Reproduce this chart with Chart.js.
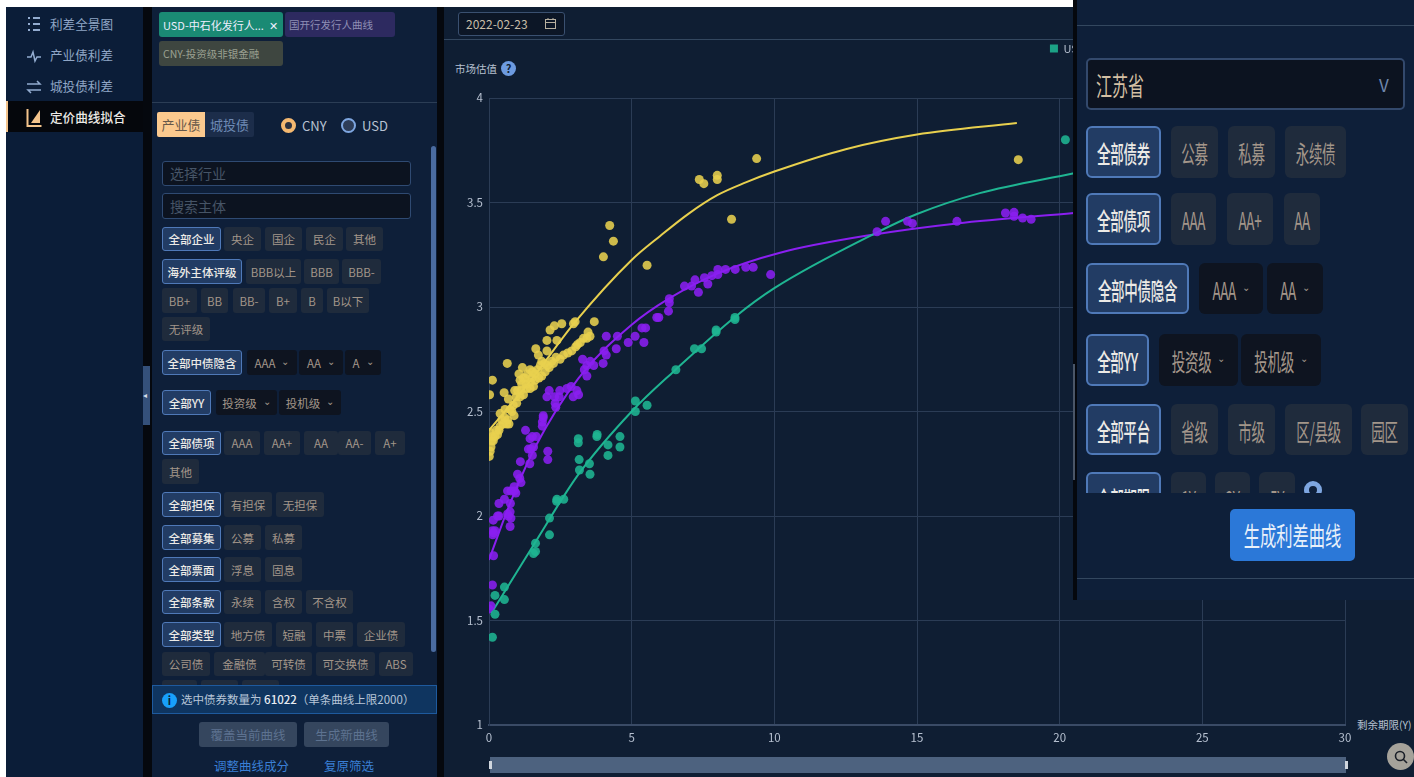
<!DOCTYPE html>
<html>
<head>
<meta charset="utf-8">
<script src="https://cdn.jsdelivr.net/npm/chart.js@4"></script>
<style>
  html, body { margin: 0; padding: 0; width: 1414px; height: 777px; overflow: hidden; background: #fff; }
  body { position: relative; font-family: "Noto Sans CJK SC", "Noto Sans", sans-serif; font-size: 12px; color: #a89a85; }
  .box { position: absolute; box-sizing: border-box; white-space: nowrap; }
  .btn { display: flex; align-items: center; justify-content: center; border-radius: 3px; background: #1f2b3c; color: #a3968a; }
  .btn.on { background: #223c64; border: 1px solid #4f79b8; color: #eceae6; font-weight: 500; }
  .btn.drop { background: #0e1420; }
  .btn.drop::after { content: "⌄"; font-size: 10px; margin-left: 6px; margin-top: -5px; color: #a3968a; }
  .big { font-size: 13.5px; border-width: 2px; border-radius: 6px; letter-spacing: -0.3px; }
  .big.on { border-width: 2px; }
  .big span { display: inline-block; transform: scaleY(1.8); }
  .nav { left: 50px; font-size: 12.6px; color: #8fa6c6; line-height: 20px; }
  canvas { position: absolute; left: 444px; top: 1px; }
</style>
</head>
<body>
<div class="box" style="left:6px;top:7px;width:137px;height:770px;background:#0b1d38"></div>
<div class="box" style="left:143px;top:7px;width:9px;height:770px;background:#05080e"></div>
<div class="box" style="left:152px;top:7px;width:285px;height:770px;background:#0e1f39"></div>
<div class="box" style="left:437px;top:7px;width:7px;height:770px;background:#05080e"></div>
<div class="box" style="left:444px;top:7px;width:970px;height:770px;background:#0f1e33"></div>
<div class="box" style="left:444px;top:39px;width:630px;height:1px;background:#33475f"></div>

<!-- left menu -->
<div class="box" style="left:6px;top:101px;width:137px;height:31px;background:#05070c;border-left:2px solid #f4c48c"></div>
<div class="box nav" style="top:14px">利差全景图</div>
<div class="box nav" style="top:45px">产业债利差</div>
<div class="box nav" style="top:76px">城投债利差</div>
<div class="box nav" style="top:107px;color:#eceae6;font-weight:500">定价曲线拟合</div>
<svg class="box" style="left:26px;top:16px" width="16" height="112" fill="none" stroke="#93acd0" stroke-width="2">
  <path d="M2 2h2M7 2h7M2 8h2M7 8h7M2 14h2M7 14h7"/>
  <path stroke-width="1.5" d="M1 41h4l2-5 2 9 2-4h4"/>
  <path stroke-width="1.5" d="M1 68h13l-3-3M15 74H2l3 3"/>
  <path stroke="#f4c48c" d="M1.5 93v17h14"/>
  <path stroke="none" fill="#f4c48c" d="M5 107l9-13v13z"/>
</svg>
<div class="box" style="left:143px;top:366px;width:7px;height:59px;background:#34507a;color:#d5dde8;font-size:8px;line-height:58px">◂</div>

<!-- filter panel head -->
<div class="box btn" style="left:159px;top:12px;width:124px;height:25px;background:#1a8a74;color:#eef;justify-content:flex-start;padding-left:4px;font-size:11px">USD-中石化发行人...&nbsp;&nbsp;✕</div>
<div class="box btn" style="left:285px;top:12px;width:110px;height:25px;background:#2d2a60;color:#8f8fb5;justify-content:flex-start;padding-left:4px;font-size:10.5px">国开行发行人曲线</div>
<div class="box btn" style="left:159px;top:41px;width:124px;height:25px;background:#3e4640;color:#9aa090;justify-content:flex-start;padding-left:4px;font-size:10.5px">CNY-投资级非银金融</div>
<div class="box" style="left:152px;top:102px;width:285px;height:1px;background:#2b3d55"></div>
<div class="box btn" style="left:157px;top:112px;width:48px;height:25px;background:#fbc98e;color:#66584a;font-size:13px;border-radius:2px 0 0 2px">产业债</div>
<div class="box btn" style="left:205px;top:112px;width:49px;height:25px;background:#1c2d4a;color:#6e8ab5;font-size:13px;border-radius:0 2px 2px 0">城投债</div>
<div class="box" style="left:281px;top:118px;width:15px;height:15px;border-radius:50%;border:4px solid #f4b870;background:#2b3140"></div>
<div class="box" style="left:302px;top:116px;font-size:13px;color:#b8c2d2">CNY</div>
<div class="box" style="left:341px;top:118px;width:15px;height:15px;border-radius:50%;border:2px solid #7ea6e0;background:#2e3d58"></div>
<div class="box" style="left:362px;top:116px;font-size:13px;color:#b8c2d2">USD</div>
<div class="box" style="left:431px;top:146px;width:5px;height:506px;border-radius:3px;background:#4a6ba0"></div>
<div class="box" style="left:162px;top:161px;width:249px;height:25px;background:#0c1320;border:1px solid #2f4a72;border-radius:3px;color:#465466;font-size:14px;padding-left:7px;line-height:23px">选择行业</div>
<div class="box" style="left:162px;top:193px;width:249px;height:26px;background:#0c1320;border:1px solid #2f4a72;border-radius:3px;color:#465466;font-size:14px;padding-left:7px;line-height:24px">搜索主体</div>

<!-- main toolbar -->
<div class="box" style="left:458px;top:12px;width:107px;height:24px;background:#0c1626;border:1px solid #3a5070;border-radius:3px;color:#c8bda8;padding-left:7px;line-height:22px">2022-02-23</div>
<svg class="box" style="left:544px;top:17px" width="13" height="13" fill="none" stroke="#b8b0a0"><rect x="1.5" y="2.5" width="10" height="9"/><path d="M1.5 5.5h10M4 1v2M9 1v2"/></svg>
<div class="box" style="left:455px;top:61px;font-size:10.5px;color:#b6c0d0">市场估值</div>
<div class="box" style="left:501px;top:61px;width:15px;height:15px;border-radius:50%;background:#6d9be0;color:#0f1e33;font-size:11px;font-weight:700;text-align:center;line-height:15px">?</div>
<div class="box" style="left:1357px;top:717px;font-size:10.5px;color:#b6c0d0">剩余期限(Y)</div>

<canvas id="curveChart" width="1174" height="759"></canvas>

<!-- range slider -->
<div class="box" style="left:490px;top:757px;width:856px;height:16px;background:#4d627f"></div>
<div class="box" style="left:489px;top:761px;width:3px;height:8px;background:#d0d6de"></div>
<div class="box" style="left:1345px;top:761px;width:3px;height:8px;background:#d0d6de"></div>
<div class="box" style="left:1387px;top:743px;width:27px;height:27px;border-radius:50%;background:#a5a29a"></div>
<svg class="box" style="left:1394px;top:750px" width="14" height="14" fill="none" stroke="#1a1f28" stroke-width="1.6"><circle cx="6" cy="6" r="4.5"/><path d="M9 9l4 4"/></svg>

<!-- overlaid province panel -->
<div class="box" style="left:1073px;top:0;width:4px;height:600px;background:#05080e"></div>
<div class="box" style="left:1073px;top:364px;width:2px;height:116px;background:#4a5668"></div>
<div class="box" style="left:1077px;top:0;width:337px;height:600px;background:#0e1f39"></div>
<div class="box" style="left:1077px;top:25px;width:337px;height:1px;background:#33475f"></div>
<div class="box" style="left:1077px;top:578px;width:337px;height:1px;background:#33475f"></div>
<div class="box" style="left:1086px;top:58px;width:319px;height:52px;background:#0c1320;border:2px solid #33496c;border-radius:5px;color:#d4c0a4;font-size:16px;line-height:50px;padding-left:8px"><span style="display:inline-block;transform:scaleY(1.6)">江苏省</span></div>
<div class="box" style="left:1379px;top:72px;font-size:17px;color:#6f86ac">V</div>
<div id="clipRow" class="box" style="left:1077px;top:466px;width:337px;height:27px;overflow:hidden"></div>
<div class="box" style="left:1304px;top:481px;width:18px;height:18px;border-radius:50%;border:5px solid #7ea6e0;clip-path:inset(0 0 6px 0)"></div>
<div class="box btn" style="left:1230px;top:509px;width:125px;height:52px;background:#2b78d8;color:#e8f0fa;font-size:16.3px;border-radius:5px"><span style="display:inline-block;transform:scaleY(1.6)">生成利差曲线</span></div>

<!-- bottom of filter panel -->
<div id="clipLeft" class="box" style="left:152px;top:675px;width:285px;height:10px;overflow:hidden"></div>
<div class="box" style="left:152px;top:685px;width:285px;height:29px;background:#0f3560;border:1px solid #1e5a9e;color:#b8c6d8;line-height:27px;padding-left:28px;font-size:11.5px">选中债券数量为 <b style="color:#e8ecf2;font-weight:500">61022</b>（单条曲线上限2000）</div>
<div class="box" style="left:162px;top:693px;width:15px;height:15px;border-radius:50%;background:#18a0fb;color:#0b2038;font-weight:700;font-size:11px;text-align:center;line-height:15px">i</div>
<div class="box btn" style="left:199px;top:722px;width:98px;height:25px;background:#35465e;color:#5d7290;font-size:12.5px">覆盖当前曲线</div>
<div class="box btn" style="left:304px;top:722px;width:85px;height:25px;background:#35465e;color:#5d7290;font-size:12.5px">生成新曲线</div>
<div class="box" style="left:214px;top:756px;font-size:12.5px;color:#3a7fd5">调整曲线成分</div>
<div class="box" style="left:324px;top:756px;font-size:12.5px;color:#3a7fd5">复原筛选</div>

<script>
// chart data: [remaining term, valuation]
const tealBonds = [[0.12,1.42],[0.21,1.53],[0.21,1.62],[0.54,1.66],[0.54,1.60],[1.56,1.82],[1.63,1.83],[1.63,1.87],[2.12,1.91],[2.12,1.99],[2.37,2.07],[2.38,2.08],[2.62,2.08],[3.17,2.22],[3.16,2.27],[3.54,2.20],[3.52,2.25],[3.13,2.35],[3.13,2.37],[3.79,2.39],[3.78,2.38],[4.17,2.34],[4.17,2.29],[4.59,2.38],[4.59,2.33],[5.13,2.55],[5.13,2.50],[5.54,2.53],[6.55,2.70],[7.2,2.80],[7.45,2.80],[7.96,2.89],[7.96,2.88],[8.62,2.95],[8.62,2.94],[20.2,3.80]];
const purpleBonds = [[0.0,1.555],[0.07,1.57],[0.12,1.67],[0.16,1.81],[0.13,1.91],[0.16,1.92],[0.21,1.93],[0.12,1.93],[0.15,1.98],[0.3,2.0],[0.35,2.0],[0.35,2.06],[0.54,2.08],[0.75,2.06],[0.65,2.12],[0.77,2.12],[0.89,2.12],[0.94,2.11],[0.88,2.14],[0.65,2.01],[0.74,2.02],[0.68,2.0],[0.77,1.99],[0.74,1.95],[1.12,2.16],[1.0,2.2],[1.08,2.18],[1.1,2.26],[1.43,2.25],[1.52,2.29],[1.38,2.32],[1.47,2.32],[1.56,2.33],[1.28,2.41],[1.44,2.37],[1.52,2.38],[1.66,2.38],[1.87,2.43],[1.87,2.45],[1.9,2.47],[1.9,2.48],[2.06,2.31],[2.06,2.27],[2.03,2.57],[2.11,2.6],[2.3,2.57],[2.32,2.54],[2.34,2.52],[2.48,2.6],[2.46,2.57],[2.73,2.61],[2.88,2.62],[2.95,2.57],[3.08,2.6],[3.14,2.58],[3.28,2.75],[3.34,2.7],[3.43,2.72],[3.55,2.74],[3.67,2.72],[3.43,2.67],[4.0,2.73],[4.03,2.79],[4.11,2.77],[4.11,2.86],[4.46,2.8],[4.5,2.86],[4.88,2.83],[5.12,2.86],[5.43,2.83],[5.36,2.9],[5.49,2.9],[5.88,2.95],[5.95,2.95],[6.29,2.98],[6.32,3.02],[6.32,3.04],[6.85,3.10],[7.1,3.10],[7.22,3.13],[7.34,3.07],[7.55,3.14],[7.67,3.11],[7.81,3.15],[8.02,3.18],[8.02,3.155],[8.29,3.18],[8.63,3.18],[9.0,3.19],[9.26,3.19],[9.87,3.155],[13.6,3.36],[13.9,3.41],[14.67,3.41],[14.84,3.40],[16.4,3.41],[18.1,3.45],[18.4,3.434],[18.4,3.453],[18.7,3.426],[19.0,3.42]];
const yellowBonds = [[0.01,2.285],[0.04,2.31],[0.07,2.33],[0.09,2.36],[0.12,2.38],[0.04,2.4],[0.21,2.38],[0.3,2.39],[0.39,2.43],[0.5,2.44],[0.62,2.44],[0.7,2.44],[0.39,2.49],[0.56,2.51],[0.74,2.51],[0.88,2.48],[0.68,2.56],[0.53,2.59],[0.9,2.6],[0.02,2.58],[0.12,2.65],[0.64,2.73],[0.97,2.54],[1.09,2.57],[1.21,2.58],[1.32,2.61],[1.44,2.61],[1.56,2.62],[1.05,2.68],[1.17,2.71],[1.09,2.65],[1.26,2.66],[1.44,2.7],[1.52,2.69],[1.62,2.65],[1.64,2.8],[1.73,2.77],[1.85,2.74],[2.03,2.79],[2.03,2.84],[2.14,2.89],[2.29,2.91],[2.55,2.92],[2.38,2.84],[2.96,2.92],[3.02,2.93],[3.69,2.93],[3.47,2.88],[3.54,2.86],[1.85,2.67],[1.97,2.69],[2.11,2.71],[2.26,2.73],[2.49,2.75],[2.61,2.77],[2.76,2.78],[2.9,2.79],[3.04,2.81],[3.2,2.83],[3.31,2.85],[3.43,2.85],[5.54,3.2],[4.01,3.24],[4.36,3.315],[4.23,3.39],[7.37,3.61],[7.53,3.59],[8.0,3.63],[8.0,3.61],[8.5,3.42],[9.38,3.71],[18.55,3.705],[0.15,2.36],[0.25,2.41],[0.35,2.41],[0.45,2.46],[0.55,2.47],[0.65,2.46],[0.8,2.5],[0.85,2.53],[0.95,2.57],[1.0,2.6],[1.12,2.6],[1.15,2.63],[1.2,2.66],[1.3,2.63],[1.35,2.68],[1.45,2.64],[1.5,2.66],[1.6,2.68],[1.7,2.7],[1.75,2.66],[1.8,2.72],[1.95,2.73],[2.05,2.72],[2.2,2.74],[2.35,2.76],[3.1,2.82]];
const tealCurve = [[0.15,1.55],[1.6,1.87],[3.14,2.2],[5,2.5],[6.5,2.695],[8.6,2.95],[10,3.09],[13.5,3.35],[15,3.445],[17.2,3.545],[20.5,3.64]];
const purpleCurve = [[0,1.79],[0.68,2.04],[1.62,2.33],[3.14,2.66],[5,2.915],[6.3,3.04],[8,3.16],[10.2,3.26],[13.5,3.347],[16.4,3.4],[20.5,3.45]];
const yellowCurve = [[0,2.41],[1.5,2.655],[3,2.925],[5,3.225],[6,3.34],[7,3.447],[8,3.535],[9,3.596],[10,3.648],[12.5,3.755],[15,3.825],[18.5,3.88]];
const seriesNames = ['USD-中石化发行人曲线', '国开行发行人曲线', 'CNY-投资级非银金融'];

const teal = '#1fb592', purple = '#8a1ff0', yellow = '#e8d04e';

const toPoints = (rows) => rows.map((r) => ({ x: r[0], y: r[1] }));

const bondSet = (label, rows, color) => ({
  label: label,
  data: toPoints(rows),
  backgroundColor: color + 'e0',
  borderColor: color,
  borderWidth: 0,
  pointRadius: 4.5,
});

const curveSet = (rows, color) => ({
  data: toPoints(rows),
  showLine: true,
  cubicInterpolationMode: 'monotone',
  borderColor: color,
  borderWidth: 2,
  pointRadius: 0,
});

// legend sits higher than the plot and runs off to the right under the panel
const legendPlace = {
  id: 'legendPlace',
  beforeInit(chart) {
    const fit = chart.legend.fit;
    chart.legend.fit = function () {
      fit.call(this);
      this.height += 34;
    };
  },
  afterLayout(chart) {
    chart.legend.left += 174;
    chart.legend.right += 174;
  },
};

new Chart(document.getElementById('curveChart').getContext('2d'), {
  type: 'scatter',
  plugins: [legendPlace],
  data: {
    datasets: [
      bondSet(seriesNames[0], tealBonds, teal),
      bondSet(seriesNames[1], purpleBonds, purple),
      bondSet(seriesNames[2], yellowBonds, yellow),
      curveSet(tealCurve, teal),
      curveSet(purpleCurve, purple),
      curveSet(yellowCurve, yellow),
    ],
  },
  options: {
    responsive: false,
    animation: false,
    layout: { padding: { right: 273 } },
    plugins: {
      tooltip: { enabled: false },
      legend: {
        position: 'top',
        align: 'end',
        labels: {
          filter: (item) => item.datasetIndex < 3,
          boxWidth: 8,
          boxHeight: 8,
          padding: 42,
          color: '#b6c0d0',
          font: { family: 'Noto Sans CJK SC', size: 11 },
        },
      },
    },
    scales: {
      x: {
        min: 0,
        max: 30,
        ticks: { stepSize: 5, maxRotation: 0, padding: 6, color: '#b6c0d0', font: { family: 'Noto Sans CJK SC', size: 11.5 } },
        grid: { color: '#2b3c55', drawTicks: false },
        border: { color: '#3a4b66', width: 2 },
        afterFit: (scale) => { scale.height = 35; },
      },
      y: {
        min: 1,
        max: 4,
        ticks: { stepSize: 0.5, padding: 6, color: '#b6c0d0', font: { family: 'Noto Sans CJK SC', size: 11.5 }, callback: (value) => String(value) },
        grid: { color: '#2b3c55', drawTicks: false },
        border: { color: '#2b3c55' },
        afterFit: (scale) => { scale.width = 45; },
      },
    },
  },
});

// filter buttons: [text, left, right, kind]
const leftRows = [
  [227, 251, [['全部企业',162,221,'on'],['央企',224,261],['国企',265,302],['民企',306,343],['其他',346,383]]],
  [259, 284, [['海外主体评级',162,242,'on'],['BBB以上',246,301],['BBB',304,339],['BBB-',342,381]]],
  [288, 313, [['BB+',162,197],['BB',201,228],['BB-',233,265],['B+',269,297],['B',301,323],['B以下',327,369]]],
  [317, 341, [['无评级',162,210]]],
  [350, 375, [['全部中债隐含',162,242,'on'],['AAA',247,297,'drop'],['AA',299,343,'drop'],['A',345,381,'drop']]],
  [390, 415, [['全部YY',162,211,'on'],['投资级',216,277,'drop'],['投机级',279,341,'drop']]],
  [431, 455, [['全部债项',162,221,'on'],['AAA',224,260],['AA+',264,300],['AA',304,338],['AA-',338,371],['A+',375,405]]],
  [459, 484, [['其他',162,199]]],
  [492, 517, [['全部担保',162,221,'on'],['有担保',224,272],['无担保',276,324]]],
  [525, 550, [['全部募集',162,221,'on'],['公募',224,261],['私募',265,302]]],
  [557, 582, [['全部票面',162,221,'on'],['浮息',224,261],['固息',265,302]]],
  [590, 614, [['全部条款',162,221,'on'],['永续',224,261],['含权',265,302],['不含权',306,353]]],
  [622, 647, [['全部类型',162,221,'on'],['地方债',224,272],['短融',276,312],['中票',316,353],['企业债',357,405]]],
  [652, 676, [['公司债',162,210],['金融债',214,265],['可转债',265,312],['可交换债',316,375],['ABS',379,413]]],
];
const rightRows = [
  [126, 178, [['全部债券',1086,1161,'on'],['公募',1171,1218],['私募',1228,1275],['永续债',1285,1346]]],
  [193, 245, [['全部债项',1086,1161,'on'],['AAA',1171,1216],['AA+',1227,1273],['AA',1284,1320]]],
  [263, 314, [['全部中债隐含',1086,1189,'on'],['AAA',1199,1263,'drop'],['AA',1267,1323,'drop']]],
  [334, 386, [['全部YY',1086,1149,'on'],['投资级',1159,1238,'drop'],['投机级',1241,1321,'drop']]],
  [404, 455, [['全部平台',1086,1161,'on'],['省级',1171,1218],['市级',1228,1275],['区/县级',1285,1352],['园区',1361,1408]]],
];

function addButton(parent, item, top, bottom, big, offsetX, offsetY) {
  const el = document.createElement('div');
  el.className = 'box btn ' + (item[3] || '') + (big ? ' big' : '');
  el.style.left = item[1] - offsetX + 'px';
  el.style.width = item[2] - item[1] + 'px';
  el.style.top = top - offsetY + 'px';
  el.style.height = bottom - top + 'px';
  if (!big) el.style.fontSize = '11.5px';
  const text = document.createElement('span');
  text.textContent = item[0];
  el.appendChild(text);
  parent.appendChild(el);
}

leftRows.forEach((row) => row[2].forEach((b) => addButton(document.body, b, row[0], row[1], false, 0, 0)));
rightRows.forEach((row) => row[2].forEach((b) => addButton(document.body, b, row[0], row[1], true, 0, 0)));

// rows cut off by the panel edges
[['',162,197],['',201,238],['',242,279]].forEach((b) => addButton(document.getElementById('clipLeft'), b, 680, 705, false, 152, 675));
[['全部期限',1086,1161,'on'],['1Y',1171,1206],['3Y',1215,1250],['5Y',1259,1295]].forEach((b) => addButton(document.getElementById('clipRow'), b, 472, 524, true, 1077, 466));
</script>
</body>
</html>
